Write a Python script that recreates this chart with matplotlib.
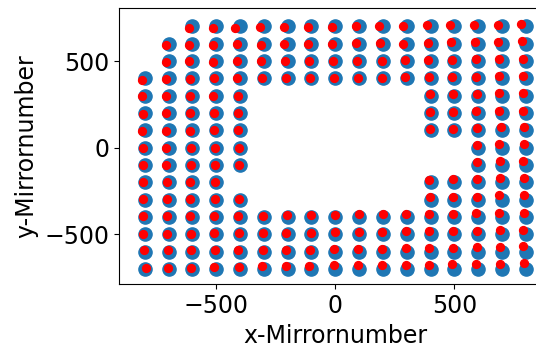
import matplotlib
matplotlib.use("Agg")
import matplotlib.pyplot as plt
import numpy as np

# Rows of the mirror grid: y value -> list of x columns
row_y = [700, 600, 500, 400, 300, 200, 100, 0, -100, -200, -300, -400, -500, -600, -700]
full = [-800, -700, -600, -500, -400, -300, -200, -100, 0, 100, 200, 300, 400, 500, 600, 700, 800]
row_x = [
    [-600, -500, -400, -300, -200, -100, 0, 100, 200, 300, 400, 500, 600, 700, 800],
    [-700, -600, -500, -400, -300, -200, -100, 0, 100, 200, 300, 400, 500, 600, 700, 800],
    [-700, -600, -500, -400, -300, -200, -100, 0, 100, 200, 300, 400, 500, 600, 700, 800],
    full,
    [-800, -700, -600, -500, -400, 400, 500, 600, 700, 800],
    [-800, -700, -600, -500, -400, 400, 500, 600, 700, 800],
    [-800, -700, -600, -500, -400, 400, 500, 600, 700, 800],
    [-800, -700, -600, -500, -400, 600, 700, 800],
    [-800, -700, -600, -500, -400, 600, 700, 800],
    [-800, -700, -600, -500, 400, 500, 600, 700, 800],
    [-800, -700, -600, -500, -400, 400, 500, 600, 700, 800],
    full, full, full, full,
]

# Measured displacement of the red (measured) points from the blue (nominal) points
row_dx = [
    [-13, -15, -20, -16, -17, -15, -14, -15, -15, -17, -17, -17, -18, -18, -22],
    [-10, -15, -15, -14, -14, -15, -15, -13, -13, -11, -14, -11, -14, -14, -18, -18],
    [-11, -15, -12, -14, -11, -11, -11, -11, -11, -6, -8, -10, -10, -10, -14, -14],
    [-11, -11, -10, -11, -11, -8, -7, -8, -7, -4, -4, -6, -7, -9, -10, -11, -14],
    [-11, -12, -10, -12, -10, -3, -6, -6, -11, -11],
    [-8, -10, -11, -9, -10, -3, -5, -8, -11, -13],
    [-12, -10, -10, -8, -7, -3, -5, -6, -6, -10],
    [-8, -9, -7, -5, -3, -6, -11, -10],
    [-8, -9, -7, -5, -3, -6, -7, -14],
    [-7, -8, -8, -5, -6, -5, -7, -10, -10],
    [-6, -8, -10, -5, -4, -3, -6, -7, -11, -10],
    [-8, -6, -10, -8, -7, -5, -1, -3, -1, 0, -1, -3, -5, -8, -8, -12, -8],
    [-6, -6, -7, -8, -6, -5, -5, -3, -3, 0, -6, -3, -7, -8, -7, -9, -11],
    [-4, -3, -7, -5, -7, -5, -5, -5, -4, -3, -4, -5, -7, -8, -7, -9, -11],
    [4, -3, -6, -8, -4, -6, -7, -9, -7, -6, -6, -5, -7, -9, -10, -10, -9],
]
row_dy = [
    [-10, -10, -8, -5, -3, -3, -3, 0, 0, 0, 6, 6, 8, 8, 13],
    [-10, -6, -6, -4, -5, -4, -2, 0, 2, 4, 0, 4, 8, 10, 11, 15],
    [-6, -2, -6, -2, -2, 0, 2, 2, 2, 2, 4, 8, 8, 10, 13, 13],
    [-8, -4, -4, 0, 0, 0, 0, 0, 0, 2, 3, 6, 8, 8, 8, 15, 13],
    [-4, -4, -2, -2, 0, 8, 8, 10, 13, 15],
    [-5, -2, -2, -2, 0, 4, 8, 10, 11, 13],
    [-4, -2, -4, 0, 0, 8, 10, 11, 19, 19],
    [-4, -4, -4, -4, -4, 15, 19, 19],
    [0, 0, 0, 0, 0, 15, 21, 25],
    [0, 0, 3, 3, 15, 17, 19, 25, 27],
    [2, 2, 2, 2, 4, 17, 17, 17, 25, 27],
    [4, 4, 4, 6, 6, 8, 10, 10, 12, 18, 16, 16, 16, 18, 22, 26, 24],
    [5, 5, 5, 9, 9, 10, 9, 9, 13, 15, 15, 17, 18, 20, 20, 24, 28],
    [7, 7, 9, 9, 11, 12, 11, 11, 15, 13, 17, 19, 19, 21, 27, 29, 31],
    [6, 6, 8, 12, 14, 16, 16, 18, 22, 22, 22, 22, 24, 29, 29, 31, 35],
]

bx, by, rx, ry = [], [], [], []
for y, xs, dxs, dys in zip(row_y, row_x, row_dx, row_dy):
    for x, dx, dy in zip(xs, dxs, dys):
        bx.append(x); by.append(y)
        rx.append(x + dx); ry.append(y + dy)

fig = plt.figure(figsize=(5.36, 3.49), dpi=100)
ax = fig.add_axes([0.2215, 0.1854, 0.8082, 0.7908])
ax.scatter(bx, by, s=90, color="#1f77b4", zorder=2)
ax.scatter(rx, ry, s=32, color="red", zorder=3)
ax.set_xlim(-909, 909)
ax.set_ylim(-788, 804)
ax.set_xticks([-500, 0, 500])
ax.set_yticks([-500, 0, 500])
ax.tick_params(labelsize=17)
ax.set_xlabel("x-Mirrornumber", fontsize=17)
ax.set_ylabel("y-Mirrornumber", fontsize=17)
fig.savefig("out.png", dpi=100)
